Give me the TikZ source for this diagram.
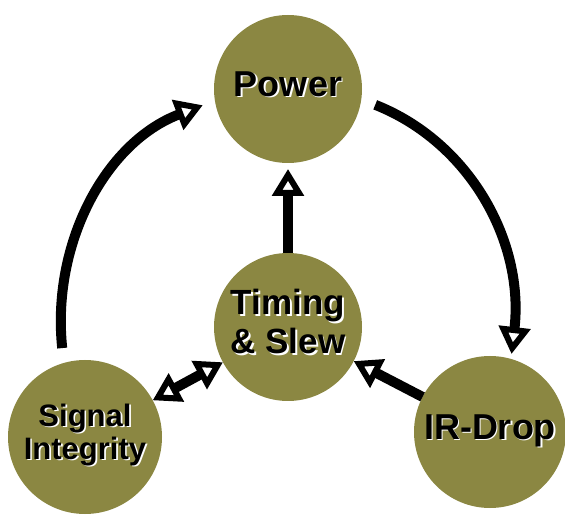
\documentclass[tikz,border=0pt]{standalone}
\usepackage{fontspec}
\setmainfont{Liberation Sans}
\usetikzlibrary{arrows.meta}
\definecolor{olivefill}{RGB}{139,135,66}
\newcommand{\shtxt}[1]{\makebox[0pt][l]{\hspace{1.6pt}\raisebox{-1.6pt}{\color{white}\begin{tabular}{@{}c@{}}#1\end{tabular}}}\begin{tabular}{@{}c@{}}#1\end{tabular}}
\tikzset{
  ball/.style={circle, fill=olivefill, inner sep=0pt, outer sep=0pt, text=black, font=\bfseries},
  opentip/.tip={Triangle[fill=white, length=27pt, width=31pt, line width=6pt]},
  conn/.style={line width=10pt, draw=black},
  arr/.style={conn, -opentip},
  dbl/.style={conn, opentip-opentip},
}
\begin{document}
\begin{tikzpicture}[x=1pt,y=1pt]
\useasboundingbox (0,0) rectangle (565,-518);
\node[ball, minimum size=148pt] (P) at (288,-89) {\fontsize{36}{40}\selectfont\shtxt{Power}};
\node[ball, minimum size=148pt] (T) at (288,-327) {\fontsize{35}{39}\selectfont\shtxt{Timing\\\& Slew}};
\node[ball, minimum size=154pt] (SI) at (85,-437) {\fontsize{31}{33}\selectfont\shtxt{Signal\\Integrity}};
\node[ball, minimum size=152pt] (IR) at (490,-432) {\fontsize{36}{40}\selectfont\shtxt{IR-Drop}};
\draw[arr, shorten <=15pt, shorten >=13pt] (SI.106) to[out=96, in=201] (P.189);
\draw[arr, shorten <=15pt, shorten >=5pt] (P.-8) to[out=-21.6, in=83.4] (IR.74);
\draw[arr, shorten >=6pt] (T) -- (P);
\draw[dbl] (SI) -- (T);
\draw[arr] (IR) -- (T);
\end{tikzpicture}
\end{document}
